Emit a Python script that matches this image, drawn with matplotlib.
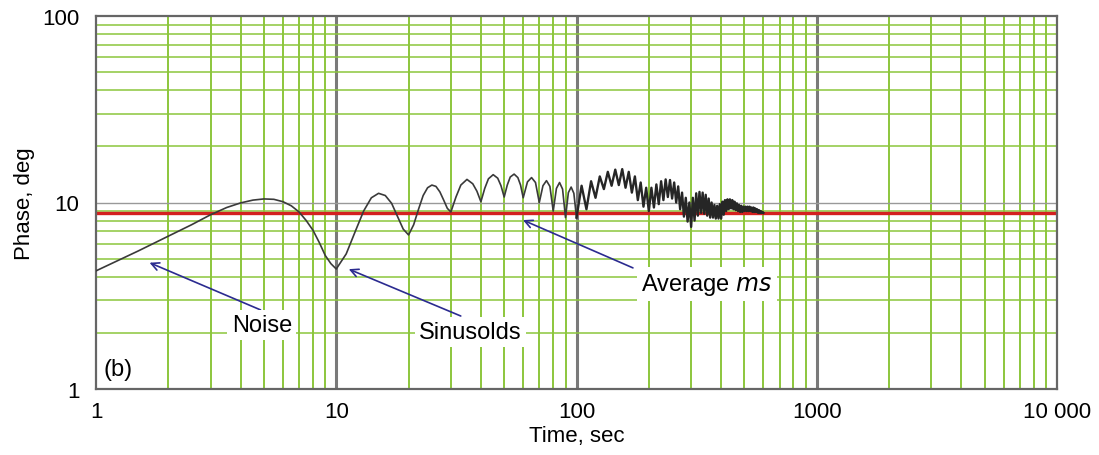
import numpy as np
import matplotlib.pyplot as plt
from matplotlib.ticker import FixedLocator, FixedFormatter, NullLocator

plt.rcParams['font.family'] = ['Liberation Sans', 'DejaVu Sans']

# phase estimate vs. averaging time
# start-up noise, 1-10 s
noise_t = [1, 1.5, 2, 2.5, 3, 3.5, 4, 4.5, 5, 5.5, 6, 6.5, 7, 7.5, 8, 8.5, 9, 9.5, 10]
noise_v = [4.3, 5.5, 6.6, 7.6, 8.6, 9.4, 9.95, 10.3, 10.45, 10.4, 10.1, 9.6, 8.9,
           8.0, 7.1, 6.1, 5.2, 4.7, 4.4]

# slow sinusoid, 10-100 s
sine_t = [11, 12, 13, 14, 15, 16, 17, 18, 19, 20,
          21, 22, 23, 24, 25, 26, 27, 28, 29, 30,
          31.5, 33, 35, 37, 38.5, 40, 41.5, 43, 45, 47, 48.5, 50,
          51.5, 53, 55, 57, 58.5, 60,
          62.5, 65, 67.5, 70, 72.5, 75, 77.5, 80, 82.5, 85, 87.5, 90,
          92.5, 95, 97.5, 100]
sine_v = [5.3, 7.0, 9.0, 10.6, 11.2, 10.9, 9.9, 8.4, 7.2, 6.7,
          7.6, 9.2, 10.9, 12.0, 12.4, 12.2, 11.4, 10.3, 9.3, 8.9,
          10.7, 12.4, 13.3, 12.6, 11.5, 10.1, 11.9, 13.4, 14.1, 13.5, 12.3, 10.7,
          12.4, 13.7, 14.2, 13.6, 12.4, 10.6,
          12.9, 13.6, 12.8, 10.0, 12.3, 13.1, 12.2, 9.0, 11.9, 12.8, 11.8, 8.3,
          11.3, 12.1, 11.2, 8.3]

# fast ripple, 100-600 s: troughs at 100, 110, ... and peaks at 105, 115, ...
ripple_troughs = [8.3, 9.2, 10.6, 11.8, 12.3, 12.4, 12.0, 11.3, 10.3, 9.5,
                  9.0, 9.4, 9.8, 10.3, 10.7, 10.5, 10.0, 9.2, 8.4, 7.9,
                  7.4, 8.0, 8.5, 8.8, 8.7, 8.5, 8.3, 8.3, 8.2, 8.2,
                  8.2, 8.6, 9.0, 9.2, 9.3, 9.2, 9.1, 9.0, 8.9, 8.9,
                  9.0, 9.0, 9.0, 9.0, 8.9, 8.9, 8.9, 8.8, 8.8, 8.8, 8.8]
ripple_peaks = [12.3, 13.0, 13.8, 14.6, 15.0, 15.1, 14.6, 13.8, 12.8, 12.0,
                12.0, 12.5, 13.0, 13.3, 13.2, 12.8, 12.2, 11.3, 10.6, 10.0,
                10.6, 11.2, 11.4, 11.3, 11.0, 10.5, 10.0, 9.7, 9.6, 9.8,
                10.1, 10.3, 10.4, 10.4, 10.3, 10.1, 9.9, 9.7, 9.6, 9.5,
                9.5, 9.5, 9.5, 9.4, 9.4, 9.3, 9.2, 9.1, 9.0, 8.9]

avg_ms = 8.8

x_ticks = [1, 10, 100, 1000, 10000]
x_labels = ['1', '10', '100', '1000', '10 000']
y_ticks = [1, 10, 100]
y_labels = ['1', '10', '100']

ripple_t = np.arange(100, 601, 5)
ripple_v = np.empty(len(ripple_t))
ripple_v[0::2] = ripple_troughs
ripple_v[1::2] = ripple_peaks

t = np.concatenate([noise_t, sine_t])
v = np.concatenate([noise_v, sine_v])

green = '#8cc63c'
fig = plt.figure(figsize=(10.99, 4.56), dpi=100)
ax = fig.add_axes([96 / 1099, 1 - 390 / 456, 961 / 1099, 373 / 456])
ax.set_xscale('log')
ax.set_yscale('log')
ax.set_xlim(1, 10000)
ax.set_ylim(1, 100)

# log grid: green for the 2..9 lines, gray for the decades
for dec in [1, 10, 100, 1000]:
    for m in range(2, 10):
        ax.axvline(dec * m, color=green, lw=1.4, zorder=1)
    if dec > 1:
        ax.axvline(dec, color='#7a7a7a', lw=2.2, zorder=1)
for dec in [1, 10]:
    for m in range(2, 10):
        ax.axhline(dec * m, color=green, lw=1.1, zorder=1)
ax.axhline(10, color='#999999', lw=1.0, zorder=1)

ax.axhline(avg_ms, color='#d42020', lw=2.4, zorder=2)
ax.plot(t, v, color='#3a3a3a', lw=1.2, zorder=3)
ax.plot(ripple_t, ripple_v, color='#262626', lw=1.7, zorder=3)

arrow = dict(arrowstyle='->', color='#2b2b90', lw=1.2, mutation_scale=14)
box = dict(facecolor='white', edgecolor='none', pad=3)
ax.annotate('', xy=(1.63, 4.82), xytext=(4.96, 2.62), arrowprops=arrow, zorder=4)
ax.annotate('', xy=(11.0, 4.45), xytext=(33.8, 2.43), arrowprops=arrow, zorder=4)
ax.annotate('', xy=(58.4, 8.16), xytext=(176, 4.4), arrowprops=arrow, zorder=4)
ax.text(4.9, 2.2, 'Noise', fontsize=17, ha='center', va='center', bbox=box, zorder=5)
ax.text(36.2, 2.02, 'Sinusolds', fontsize=17, ha='center', va='center', bbox=box, zorder=5)
ax.text(348, 3.66, 'Average $\\it{ms}$', fontsize=17, ha='center', va='center',
        bbox=box, zorder=5)
ax.text(0.008, 0.054, '(b)', transform=ax.transAxes, fontsize=17, ha='left', va='center')

ax.xaxis.set_major_locator(FixedLocator(x_ticks))
ax.xaxis.set_major_formatter(FixedFormatter(x_labels))
ax.yaxis.set_major_locator(FixedLocator(y_ticks))
ax.yaxis.set_major_formatter(FixedFormatter(y_labels))
ax.xaxis.set_minor_locator(NullLocator())
ax.yaxis.set_minor_locator(NullLocator())
ax.tick_params(length=0, labelsize=16)
ax.tick_params(axis='x', pad=9)
ax.tick_params(axis='y', pad=12)
ax.set_xlabel('Time, sec', fontsize=16, labelpad=2)
ax.set_ylabel('Phase, deg', fontsize=16, labelpad=5)
for s in ax.spines.values():
    s.set_color('#666666')
    s.set_linewidth(1.6)

fig.savefig('out.png', dpi=100)
